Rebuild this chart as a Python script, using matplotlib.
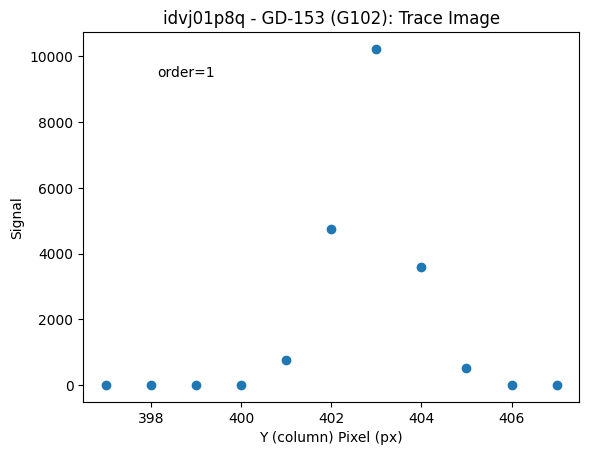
import matplotlib
matplotlib.use("Agg")
import matplotlib.pyplot as plt

# trace profile values
pixels = [397, 398, 399, 400, 401, 402, 403, 404, 405, 406, 407]
signal = [5, 5, 5, 5, 760, 4750, 10230, 3600, 520, 5, 5]

fig, ax = plt.subplots(figsize=(6.4, 4.8), dpi=100)
ax.scatter(pixels, signal)
ax.set_title('idvj01p8q - GD-153 (G102): Trace Image')
ax.set_xlabel('Y (column) Pixel (px)')
ax.set_ylabel('Signal')
ax.text(0.15, 0.88, 'order=1', transform=ax.transAxes)
fig.savefig('out.png', bbox_inches='tight')
